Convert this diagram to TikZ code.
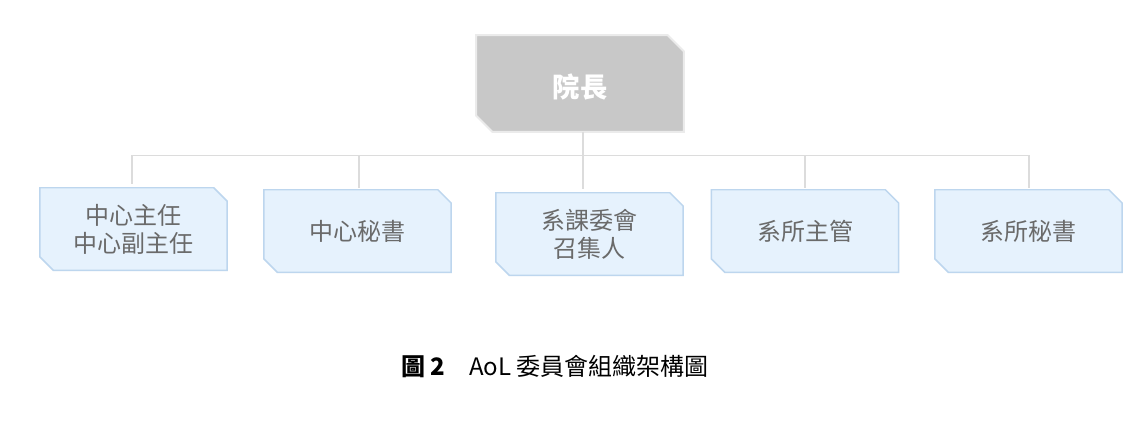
\documentclass[tikz,border=0pt]{standalone}
\usepackage{fontspec}
\setmainfont{Noto Sans CJK TC}
\definecolor{topfill}{HTML}{C8C8C8}
\definecolor{topline}{HTML}{EBEBEB}
\definecolor{kidfill}{HTML}{E6F2FD}
\definecolor{kidline}{HTML}{BDD6EE}
\definecolor{kidtext}{HTML}{6A6A6A}
\definecolor{conn}{HTML}{DCDCDC}
\tikzset{
  cutbox/.style={draw=none, inner sep=0pt, align=center},
  topbox/.style={cutbox, minimum width=155.25pt, minimum height=72pt,
     font=\fontsize{20.5pt}{24pt}\selectfont\bfseries, text=white},
  kidbox/.style={cutbox, minimum width=140pt, minimum height=61.5pt,
     font=\fontsize{18pt}{21pt}\selectfont, text=kidtext},
  connline/.style={draw=conn, line width=1pt},
}
\newcommand\cutpoly[3]{%
  \path[#3] (#1.north west) -- ([xshift=-#2]#1.north east) -- ([yshift=-#2]#1.north east)
    -- (#1.south east) -- ([xshift=#2]#1.south west) -- ([yshift=#2]#1.south west) -- cycle;}
\begin{document}
\begin{tikzpicture}[x=0.75pt,y=-0.75pt]
\useasboundingbox[fill=white] (0,0) rectangle (1144,424);
\node[topbox] (top) at (580,83.5) {};
\cutpoly{top}{12pt}{fill=topfill, draw=topline, line width=1.5pt}
\node[topbox] at ([yshift=-2.5pt]top.center) {院長};

\node[kidbox] (k1) at (133.5,229) {};
\node[kidbox] (k2) at (357.5,231) {};
\node[kidbox] (k3) at (589.5,234) {};
\node[kidbox] (k4) at (805,231) {};
\node[kidbox] (k5) at (1028.5,231) {};
\foreach \k in {k1,k2,k3,k4,k5}{\cutpoly{\k}{10pt}{fill=kidfill, draw=kidline, line width=1.1pt}}
\node[kidbox] at (k1.center) {中心主任\\中心副主任};
\node[kidbox] at (k2.center) {中心秘書};
\node[kidbox] at (k3.center) {系課委會\\召集人};
\node[kidbox] at (k4.center) {系所主管};
\node[kidbox] at (k5.center) {系所秘書};

\coordinate (jn) at (583,155.5);
\draw[connline] ([xshift=2.25pt]top.south) -- (jn);
\draw[connline] (jn) -| ([xshift=-1.1pt,yshift=3pt]k1.north);
\draw[connline] (jn) -| ([xshift=1.1pt,yshift=1pt]k2.north);
\draw[connline] (jn) -| ([xshift=-4.9pt,yshift=3pt]k3.north);
\draw[connline] (jn) -| ([yshift=1pt]k4.north);
\draw[connline] (jn) -| ([xshift=0.4pt,yshift=1pt]k5.north);

\node[font=\fontsize{18pt}{21pt}\selectfont, text=black, inner sep=0pt, anchor=west] (cap) at (401,367)
  {{\bfseries 圖 2}\hspace{1em}AoL 委員會組織架構圖};
\end{tikzpicture}
\end{document}
